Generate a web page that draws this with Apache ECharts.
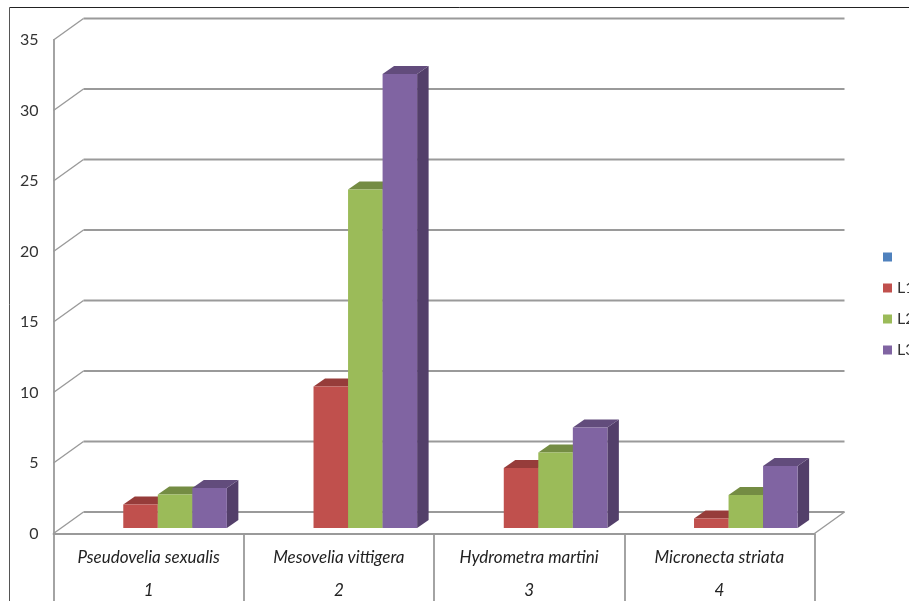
<!DOCTYPE html>
<html>
<head>
<meta charset="utf-8">
<style>html,body{margin:0;padding:0;background:#fff;overflow:hidden}#c{width:909px;height:601px}</style>
<script src="https://cdn.jsdelivr.net/npm/echarts@6/dist/echarts.min.js"></script>
</head>
<body>
<div id="c"></div>
<script>
const species = ['Pseudovelia sexualis', 'Mesovelia vittigera', 'Hydrometra martini', 'Micronecta striata'];
const numbers = ['1', '2', '3', '4'];
const yTicks = [0, 5, 10, 15, 20, 25, 30, 35];
const seriesNames = ['L1', 'L2', 'L3'];
const L1 = [1.67, 10.04, 4.26, 0.67];
const L2 = [2.38, 24.0, 5.36, 2.34];
const L3 = [2.84, 32.2, 7.13, 4.4];

const GRID_LINE = '#9a9a9a';
const WALL_DX = 30, WALL_DY = -21.5;
const BAR_DX = 11.5, BAR_DY = -8;
const BAR_FRONT_SHIFT = -5.5;
const FONT = 'Lato, sans-serif';
const faces = [
  {front: '#C0504D', top: '#963C3A', side: '#7F302E'},
  {front: '#9BBB59', top: '#748C43', side: '#667C3A'},
  {front: '#8064A2', top: '#624C7C', side: '#533F6A'}
];

function wallItem(params, api) {
  const v = api.value(1);
  const cs = params.coordSys;
  const y = api.coord([0, v])[1];
  const x0 = cs.x, x1 = cs.x + cs.width;
  const children = [{
    type: 'polyline',
    shape: {points: [[x0, y], [x0 + WALL_DX, y + WALL_DY]]},
    style: {stroke: GRID_LINE, lineWidth: 1.4, fill: null}
  }, {
    type: 'line',
    shape: {x1: x0 + WALL_DX, y1: y + WALL_DY, x2: x1 + WALL_DX, y2: y + WALL_DY},
    style: {stroke: GRID_LINE, lineWidth: 1.8}
  }];
  if (v === 0) {
    children.push({
      type: 'line',
      shape: {x1: x1, y1: y, x2: x1 + WALL_DX, y2: y + WALL_DY},
      style: {stroke: GRID_LINE, lineWidth: 1.4}
    });
  }
  return {type: 'group', children};
}

function barRenderer(sIdx) {
  return function (params, api) {
    const cat = api.value(0);
    const val = api.value(1);
    const band = api.size([1, 0])[0];
    const barW = band * 0.1815;
    const c = api.coord([cat, 0]);
    const top = api.coord([cat, val])[1] + BAR_FRONT_SHIFT;
    const bottom = c[1] + BAR_FRONT_SHIFT;
    const left = c[0] + band * 0.139 + (sIdx - 1.5) * barW;
    const right = left + barW;
    const f = faces[sIdx];
    return {type: 'group', children: [
      {type: 'polygon', shape: {points: [[right, top], [right + BAR_DX, top + BAR_DY], [right + BAR_DX, bottom + BAR_DY], [right, bottom]]}, style: {fill: f.side}},
      {type: 'polygon', shape: {points: [[left, top], [left + BAR_DX, top + BAR_DY], [right + BAR_DX, top + BAR_DY], [right, top]]}, style: {fill: f.top}},
      {type: 'rect', shape: {x: left, y: top, width: barW, height: bottom - top}, style: {fill: f.front}}
    ]};
  };
}

const barData = [L1, L2, L3];
const chart = echarts.init(document.getElementById('c'), null, {renderer: 'canvas'});
chart.setOption({
  animation: false,
  backgroundColor: '#fff',
  textStyle: {fontFamily: FONT},
  grid: {left: 53.5, top: 40, width: 761, height: 493.5, containLabel: false, outerBoundsMode: 'none'},
  graphic: [
    {type: 'line', silent: true, shape: {x1: 9.5, y1: 7.5, x2: 909, y2: 7.5}, style: {stroke: '#222', lineWidth: 1}},
    {type: 'line', silent: true, shape: {x1: 9.5, y1: 7.5, x2: 9.5, y2: 601}, style: {stroke: '#555', lineWidth: 1}}
  ],
  legend: {
    orient: 'vertical', left: 883, top: 247, padding: 0, itemWidth: 9, itemHeight: 9, itemGap: 11,
    selectedMode: false,
    textStyle: {color: '#333', fontSize: 16, fontFamily: FONT, lineHeight: 20},
    data: [' ', ...seriesNames].map(n => ({name: n, icon: 'rect'}))
  },
  xAxis: {
    type: 'category', data: species, boundaryGap: true,
    axisLine: {show: true, lineStyle: {color: GRID_LINE, width: 1.8}},
    axisTick: {show: true, length: 70, alignWithLabel: false, lineStyle: {color: GRID_LINE, width: 1.8}},
    axisLabel: {
      interval: 0, margin: 8, color: '#222', fontStyle: 'italic', fontSize: 17,
      lineHeight: 33, hideOverlap: false,
      formatter: (v, i) => v + '\n' + numbers[i]
    },
    splitLine: {show: false}
  },
  yAxis: {
    type: 'value', min: 0, max: 35, interval: 5,
    axisLine: {show: true, lineStyle: {color: GRID_LINE, width: 1.8}},
    axisTick: {show: false},
    axisLabel: {color: '#333', fontSize: 16, margin: 15, padding: [8, 0, 0, 0]},
    splitLine: {show: false}
  },
  series: [
    {type: 'custom', name: 'walls', silent: true, renderItem: wallItem, data: yTicks.map(v => [0, v]), encode: {x: 0, y: 1}, z: 1},
    {type: 'custom', name: ' ', itemStyle: {color: '#4F81BD'}, renderItem: () => null, data: [], z: 2},
    ...seriesNames.map((n, s) => ({
      type: 'custom', name: n, itemStyle: {color: faces[s].front},
      renderItem: barRenderer(s),
      data: barData[s].map((v, i) => [i, v]), encode: {x: 0, y: 1}, z: 3
    }))
  ]
});
</script>
</body>
</html>
